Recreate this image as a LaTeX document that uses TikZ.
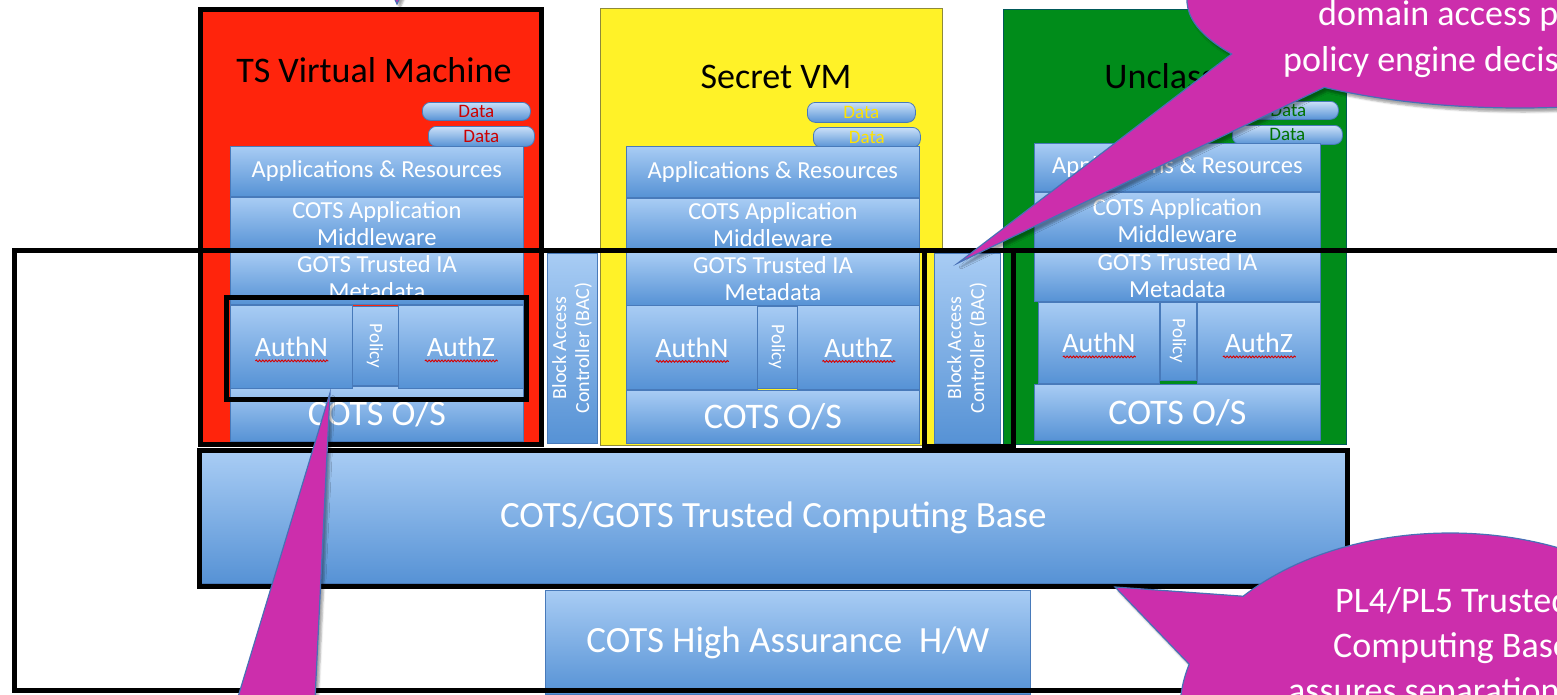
\documentclass[tikz,border=0pt]{standalone}
\usepackage{fontspec}
\setmainfont{Carlito}
\usepackage{tikz}
\usetikzlibrary{calc,shapes,shadows,shadows.blur,decorations.pathmorphing}
\definecolor{tsred}{RGB}{255,36,12}
\definecolor{secyellow}{RGB}{255,242,40}
\definecolor{uncgreen}{RGB}{0,140,26}
\definecolor{boxtop}{RGB}{168,204,244}
\definecolor{boxbot}{RGB}{86,146,213}
\definecolor{boxedge}{RGB}{72,122,186}
\definecolor{callmag}{RGB}{204,46,172}
\definecolor{calledge}{RGB}{72,112,182}
\tikzset{
   stack node/.style={rectangle,anchor=north west,inner sep=0pt,draw=boxedge,line width=0.8pt,
                      top color=boxtop,bottom color=boxbot,text=white,align=center,
                      font=\fontsize{24.5}{27}\selectfont},
   data node/.style={stack node,rounded corners=8pt,top color=boxtop!60!white,bottom color=boxbot,
                     font=\fontsize{19}{20}\selectfont},
   frame/.style={draw=black,line width=5pt},
   callout/.style={fill=callmag,draw=calledge,line width=1.2pt,
                   blur shadow={shadow xshift=3pt,shadow yshift=-4pt,shadow opacity=35}},
   callout text/.style={text=white,anchor=base west,inner sep=0pt,font=\fontsize{36}{44}\selectfont},
   spellchk/.style={draw=red!85!black,line width=0.9pt,decorate,
                    decoration={snake,amplitude=0.9pt,segment length=3.2pt}}
}
\begin{document}
\begin{tikzpicture}[x=1pt,y=-1pt,
                    vm title/.style={font=\fontsize{36}{40}\selectfont,text=black,inner sep=0pt,anchor=base},
                    auth node/.style={stack node,font=\fontsize{28}{30}\selectfont},
                    os node/.style={stack node,font=\fontsize{36}{40}\selectfont},
                    base node/.style={stack node,font=\fontsize{37}{42}\selectfont},
                    policy node/.style={stack node,anchor=center,rotate=-90,font=\fontsize{19}{20}\selectfont},
                    bac node/.style={stack node,anchor=center,rotate=90,font=\fontsize{20}{23}\selectfont}]
\useasboundingbox (0,0) rectangle (1557,694);
% the three virtual machines
\fill[tsred] (202,10) rectangle (540,443);
\filldraw[fill=secyellow,draw=olive!60!gray] (600,8) rectangle (942,445);
\filldraw[fill=uncgreen,draw=teal!70!black] (1003,9) rectangle (1346,444);
\node[vm title] (tsT) at (374,82) {TS Virtual Machine};
\node[vm title] (scT) at (776,88) {Secret VM};
\node[vm title] (ucT) at (1192,88) {Unclassified};
%
\node[data node,text=red!80!black,minimum width=108pt,minimum height=18pt] (tsD1) at (422,102) {Data};
\node[data node,text=red!80!black,minimum width=106pt,minimum height=20pt] (tsD2) at (428,126) {Data};
\node[stack node,minimum width=293pt,minimum height=50pt] (tsApps) at (230,146) {Applications \& Resources};
\node[stack node,minimum width=293pt,minimum height=53pt] (tsMid) at (230,197) {COTS Application\\Middleware};
\node[stack node,minimum width=293pt,minimum height=53pt] (tsGots) at (230,251) {GOTS Trusted IA\\Metadata};
\node[os node,minimum width=293pt,minimum height=55pt] (tsOS) at (230,386) {COTS O/S};
\node[auth node,minimum width=122pt,minimum height=83pt] (tsAuthN) at (230,305) {AuthN};
\node[policy node,minimum width=79pt,minimum height=46pt] (tsPol) at (375,346) {Policy};
\node[auth node,minimum width=125pt,minimum height=83pt] (tsAuthZ) at (398,305) {AuthZ};
%
\node[data node,text=yellow!85!orange,minimum width=108pt,minimum height=20pt] (scD1) at (807,102) {Data};
\node[data node,text=yellow!85!orange,minimum width=107pt,minimum height=20pt] (scD2) at (813,127) {Data};
\node[stack node,minimum width=293pt,minimum height=51pt] (scApps) at (626,146) {Applications \& Resources};
\node[stack node,minimum width=293pt,minimum height=53pt] (scMid) at (626,198) {COTS Application\\Middleware};
\node[stack node,minimum width=293pt,minimum height=53pt] (scGots) at (626,252) {GOTS Trusted IA\\Metadata};
\node[os node,minimum width=293pt,minimum height=53pt] (scOS) at (626,390) {COTS O/S};
\node[auth node,minimum width=131pt,minimum height=84pt] (scAuthN) at (626,305) {AuthN};
\node[policy node,minimum width=82pt,minimum height=40pt] (scPol) at (777,347) {Policy};
\node[auth node,minimum width=122pt,minimum height=84pt] (scAuthZ) at (797,305) {AuthZ};
%
\node[data node,text=green!45!black,minimum width=100pt,minimum height=18pt] (ucD1) at (1238,101) {Data};
\node[data node,text=green!45!black,minimum width=110pt,minimum height=19pt] (ucD2) at (1232,125) {Data};
\node[stack node,minimum width=286pt,minimum height=48pt] (ucApps) at (1034,143) {Applications \& Resources};
\node[stack node,minimum width=286pt,minimum height=56pt] (ucMid) at (1034,192) {COTS Application\\Middleware};
\node[stack node,minimum width=286pt,minimum height=52pt] (ucGots) at (1034,249) {GOTS Trusted IA\\Metadata};
\node[os node,minimum width=286pt,minimum height=56pt] (ucOS) at (1034,384) {COTS O/S};
\node[auth node,minimum width=121pt,minimum height=81pt] (ucAuthN) at (1038,302) {AuthN};
\node[policy node,minimum width=78pt,minimum height=36pt] (ucPol) at (1178,341) {Policy};
\node[auth node,minimum width=123pt,minimum height=81pt] (ucAuthZ) at (1197,302) {AuthZ};
%
\foreach \n in {tsAuthN,tsAuthZ,scAuthN,scAuthZ,ucAuthN,ucAuthZ}
  \draw[spellchk] ($(\n.center)+(-36,14)$) -- ++(73,0);
% block access controllers, TCB and hardware
\node[bac node,minimum width=190pt,minimum height=50pt] (bac1) at (572,348) {Block Access\\Controller (BAC)};
\node[bac node,minimum width=190pt,minimum height=66pt] (bac2) at (967,348) {Block Access\\Controller (BAC)};
\node[base node,minimum width=1144pt,minimum height=131pt] (tcb) at (201,452) {COTS/GOTS Trusted Computing Base};
\node[base node,minimum width=485pt,minimum height=104pt] (hw) at (545,590) {COTS High Assurance\ \ H/W};
% black frames
\draw[frame] (14,250) rectangle (1620,690);
\draw[frame] (200,9) rectangle (541,444);
\draw[frame] (924,250) rectangle (1013,446);
\draw[frame] (226,297) rectangle (526,399);
\draw[frame] (199,450) rectangle (1347,586);
% callouts
\path[callout] (386,-20) -- (397,4) -- (408,-20) -- cycle;
\path[callout] (330,393) -- (225,740) -- (313,740) -- cycle;
\path[callout] (1520,0) ++(150:333 and 108)
   arc[start angle=150,end angle=486,x radius=333,y radius=108] -- (958,263) -- cycle;
\path[callout] (1450,710) ++(220:270 and 177)
   arc[start angle=220,end angle=555,x radius=270,y radius=177] -- (1115,587) -- cycle;
\node[callout text] (co1a) at (1318,25) {domain access per};
\node[callout text] (co1b) at (1283,71) {policy engine decisions};
\node[callout text] (co2a) at (1335,612) {PL4/PL5 Trusted};
\node[callout text] (co2b) at (1333,657) {Computing Base};
\node[callout text] (co2c) at (1288,702) {assures separation};
\end{tikzpicture}
\end{document}
